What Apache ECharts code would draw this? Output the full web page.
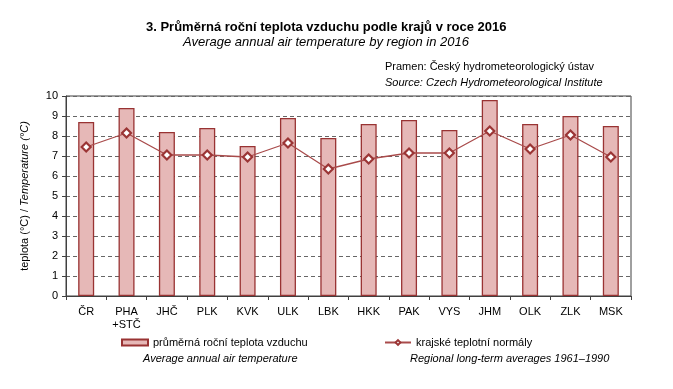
<!DOCTYPE html>
<html><head><meta charset="utf-8">
<script src="https://cdn.jsdelivr.net/npm/echarts@6/dist/echarts.min.js"></script>
<style>html,body{margin:0;padding:0;background:#fff}#c{width:673px;height:389px}</style>
</head><body><div id="c"></div>
<script>
var categories = ['ČR','PHA\n+STČ','JHČ','PLK','KVK','ULK','LBK','HKK','PAK','VYS','JHM','OLK','ZLK','MSK'];
var avgTemp2016 = [8.7, 9.4, 8.2, 8.4, 7.5, 8.9, 7.9, 8.6, 8.8, 8.3, 9.8, 8.6, 9.0, 8.5];
var normals = [7.45, 8.15, 7.05, 7.05, 6.95, 7.65, 6.35, 6.85, 7.15, 7.15, 8.25, 7.35, 8.05, 6.95];
var yTicks = [0,1,2,3,4,5,6,7,8,9,10];

var FONT = '"Liberation Sans", Arial, sans-serif';
var chart = echarts.init(document.getElementById('c'), null, {renderer:'canvas'});
chart.setOption({
  animation:false,
  textStyle:{fontFamily:FONT},
  grid:{left:66, right:42, top:96, bottom:93, show:true, borderColor:'#404040', borderWidth:1},
  xAxis:{
    type:'category', data:categories, boundaryGap:true,
    axisLine:{lineStyle:{color:'#404040', width:1}},
    axisTick:{show:true, length:4, lineStyle:{color:'#404040'}},
    axisLabel:{color:'#000', fontSize:11, fontFamily:FONT, margin:9, lineHeight:13}
  },
  yAxis:{
    type:'value', min:yTicks[0], max:yTicks[yTicks.length-1], interval:1,
    axisLine:{show:true, lineStyle:{color:'#404040', width:1}},
    axisTick:{show:true, inside:false, length:4, lineStyle:{color:'#404040'}},
    axisLabel:{color:'#000', fontSize:11, fontFamily:FONT, margin:8},
    splitLine:{show:true, lineStyle:{color:'#666', type:[4,3], width:1}},
    name:'{a|teplota (°C) / }{b|Temperature (°C)}',
    nameLocation:'middle', nameGap:36, nameRotate:90,
    nameTextStyle:{rich:{a:{fontSize:11, color:'#000', fontFamily:FONT}, b:{fontSize:11, color:'#000', fontStyle:'italic', fontFamily:FONT}}}
  },
  legend:[
    {show:true, left:116, top:332, itemWidth:26, itemHeight:6,
     textStyle:{fontSize:11, color:'#000', fontFamily:FONT},
     data:[{name:'průměrná roční teplota vzduchu', icon:'rect'}]},
    {show:true, left:379, top:332, itemWidth:26, itemHeight:6,
     textStyle:{fontSize:11, color:'#000', fontFamily:FONT},
     data:[{name:'krajské teplotní normály'}]}
  ],
  series:[
    {name:'průměrná roční teplota vzduchu', type:'bar', data:avgTemp2016, barWidth:16,
     itemStyle:{color:'#e6b8b7', borderColor:'#993333', borderWidth:1.3}},
    {name:'krajské teplotní normály', type:'line', data:normals,
     symbol:'diamond', symbolSize:9, showAllSymbol:true,
     lineStyle:{color:'#a94b4b', width:1.3},
     itemStyle:{color:'#fff', borderColor:'#9b3535', borderWidth:2.2}}
  ],
  graphic:[
    {type:'text', left:146, top:21, style:{text:'3. Průměrná roční teplota vzduchu podle krajů v roce 2016', font:'bold 13px '+FONT, fill:'#000'}},
    {type:'text', left:183, top:36, style:{text:'Average annual air temperature by region in 2016', font:'italic 13px '+FONT, fill:'#000'}},
    {type:'text', left:385, top:61, style:{text:'Pramen: Český hydrometeorologický ústav', font:'11px '+FONT, fill:'#000'}},
    {type:'text', left:385, top:77, style:{text:'Source: Czech Hydrometeorological Institute', font:'italic 11px '+FONT, fill:'#000'}},
    {type:'text', left:143, top:353, style:{text:'Average annual air temperature', font:'italic 11px '+FONT, fill:'#000'}},
    {type:'text', left:410, top:353, style:{text:'Regional long-term averages 1961–1990', font:'italic 11px '+FONT, fill:'#000'}}
  ]
});
</script></body></html>
